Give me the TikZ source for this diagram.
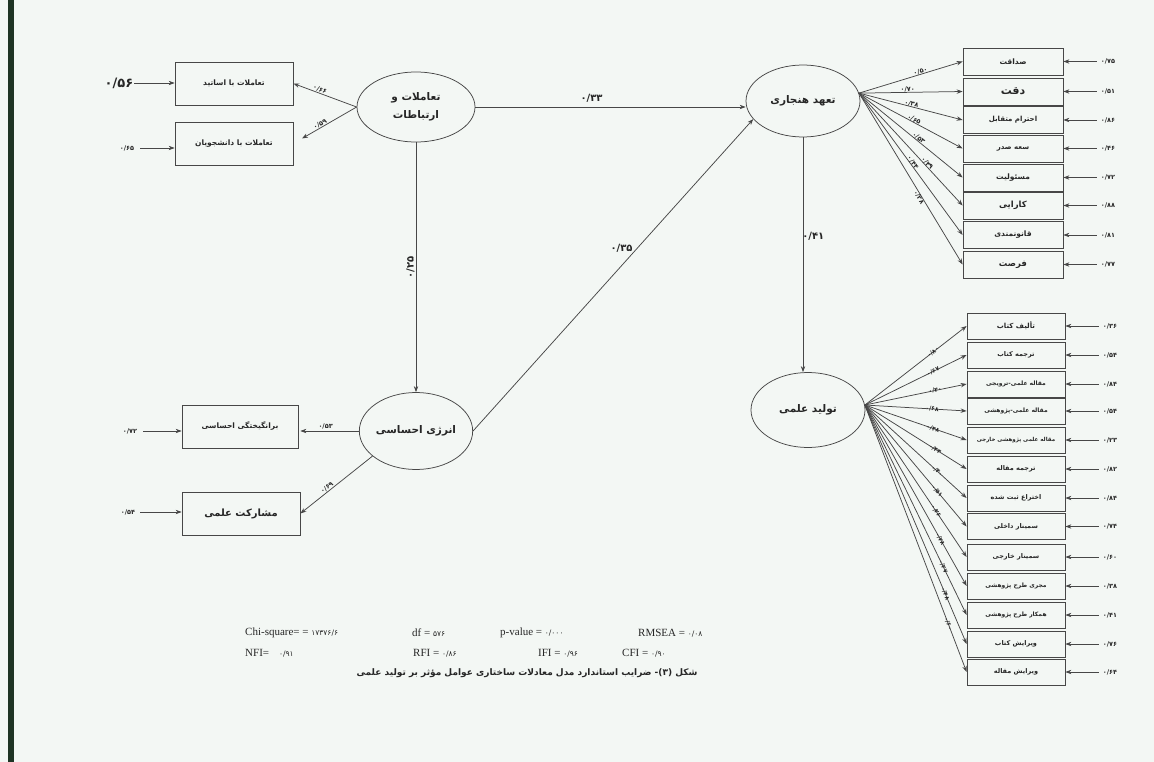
\documentclass[tikz,border=0pt]{standalone}
\usepackage{fontspec}
\setmainfont{Liberation Serif}
\newfontfamily\fa[Script=Arabic]{DejaVu Sans}
\TeXXeTstate=1
\usetikzlibrary{shapes.geometric,arrows.meta,calc}
\newcommand{\fatxt}[1]{{\fa\beginR #1\endR}}
\newcommand{\dz}[1]{۰/#1}
\newcommand{\pn}[1]{{\fa\fontsize{7.5}{9}\selectfont #1}}
\definecolor{bgc}{HTML}{F3F7F4}
\definecolor{linec}{HTML}{474747}
\definecolor{textc}{HTML}{262626}
\definecolor{barc}{HTML}{1E3424}
\tikzset{
  arr/.style={draw=linec, line width=0.75pt, -{Stealth[length=6pt,width=4.4pt]}},
  box/.style={draw=linec, line width=0.75pt, rectangle, inner sep=1pt, text=textc},
  lat/.style={draw=linec, ellipse, line width=0.75pt, inner sep=0pt, text=textc, align=center, font=\fa\bfseries\fontsize{10.5}{18}\selectfont},
  lab/.style={font=\fa\bfseries\fontsize{6.5}{7}\selectfont, text=textc, inner sep=0.6pt},
  labb/.style={font=\fa\bfseries\fontsize{10}{11}\selectfont, text=textc, inner sep=1pt},
  err/.style={font=\fa\bfseries\fontsize{6.5}{7}\selectfont, text=textc, inner sep=1pt},
  st/.style={font=\fontsize{11}{12}\selectfont, text=textc, inner sep=0pt}
}
\begin{document}
\begin{tikzpicture}[x=1pt,y=-1pt]
\useasboundingbox (0,0) rectangle (1154,762);
\fill[bgc] (0,0) rectangle (1154,762);
\fill[barc] (8,0) rectangle (13.5,762);

% latent variables
\node[lat, minimum width=118pt, minimum height=70pt] (ta) at (416,107) {\fatxt{تعاملات و}\\\fatxt{ارتباطات}};
\node[lat, minimum width=104pt, minimum height=77pt] (en) at (416,431) {\fatxt{انرژی احساسی}};
\node[lat, minimum width=114pt, minimum height=72pt] (tah) at (803,101) {\fatxt{تعهد هنجاری}};
\node[lat, minimum width=114pt, minimum height=75pt] (tol) at (808,410) {\fatxt{تولید علمی}};

% left indicator boxes
\node[box, minimum width=118pt, minimum height=43pt, font=\fa\bfseries\fontsize{7.5}{8}\selectfont] (bos) at (234,83.5) {\fatxt{تعاملات با اساتید}};
\node[box, minimum width=118pt, minimum height=43pt, font=\fa\bfseries\fontsize{7.5}{8}\selectfont] (bdn) at (234,143.5) {\fatxt{تعاملات با دانشجویان}};
\node[box, minimum width=116pt, minimum height=43pt, font=\fa\bfseries\fontsize{7.5}{8}\selectfont] (bbr) at (240,426.5) {\fatxt{برانگیختگی احساسی}};
\node[box, minimum width=118pt, minimum height=43pt, font=\fa\bfseries\fontsize{10}{11}\selectfont] (bms) at (241,513.5) {\fatxt{مشارکت علمی}};

% left errors
\node[err, font=\fa\bfseries\fontsize{13}{14}\selectfont] (e1) at (119,83) {\dz{۵۶}};
\node[err] (e2) at (127,148) {\dz{۶۵}};
\node[err] (e3) at (130,431) {\dz{۷۲}};
\node[err] (e4) at (128,512) {\dz{۵۴}};
\draw[arr] (e1) -- (e1 -| bos.west);
\draw[arr] (e2.east) ++(5,0) -- (e2 -| bdn.west);
\draw[arr] (e3.east) ++(5,0) -- (e3 -| bbr.west);
\draw[arr] (e4.east) ++(4,0) -- (e4 -| bms.west);

% left loadings
\draw[arr] (ta.west) -- node[lab, sloped, above, pos=0.6] {\dz{۶۶}} (bos.east);
\draw[arr, shorten >=10pt] (ta.west) -- node[lab, sloped, above, pos=0.55] {\dz{۵۹}} (bdn.east);
\draw[arr, shorten >=2pt] (en.west) -- node[lab, above=1pt, pos=0.55] {\dz{۵۳}} (en.west -| bbr.east);
\draw[arr] (en.210) -- node[lab, sloped, above, pos=0.6] {\dz{۶۹}} (bms.east);

% structural paths
\draw[arr] (ta.east) -- node[labb, above=3pt, pos=0.43] {\dz{۳۳}} (ta.east -| tah.west);
\draw[arr] (ta.south) -- node[labb, rotate=90, anchor=south, pos=0.5] {\dz{۲۵}} (ta.south |- en.north);
\draw[arr] (en.east) -- node[labb, pos=0.585, anchor=east, xshift=-3pt] {\dz{۳۵}} (tah.200);
\draw[arr] (tah.south) -- node[labb, anchor=west, pos=0.42, xshift=-2pt] {\dz{۴۱}} (tah.south |- tol.north);

% right-top indicators
\foreach \i/\yy/\name/\er/\lb/\pp/\side/\fs in {
  1/61.5/صداقت/۷۵/۵۰/0.6/above/7.5,
  2/91.5/دقت/۵۱/۷۰/0.47/above/11,
  3/120/احترام متقابل/۸۶/۳۸/0.5/above/7,
  4/148.5/سعه صدر/۴۶/۶۵/0.52/above/7,
  5/177.5/مسئولیت/۷۲/۵۳/0.56/above/7.5,
  6/205.5/کارایی/۸۸/۴۹/0.64/above/8.5,
  7/235/قانونمندی/۸۱/۴۴/0.5/above/7.5,
  8/264.5/فرصت/۷۷/۲۸/0.6/below/8.5}{
  \node[box, minimum width=100pt, minimum height=27pt, font=\fa\bfseries\fontsize{\fs}{\fs}\selectfont] (r\i) at (1013,\yy) {\fatxt{\name}};
  \node[err] (re\i) at (1108,\yy) {\dz{\er}};
  \draw[arr] (re\i.west) ++(-3,0) -- (re\i -| r\i.east);
  \draw[arr] (tah.8) -- node[lab, sloped, \side=-1pt, pos=\pp] {\dz{\lb}} (r\i.west);
}

% right-bottom indicators
\foreach \i/\yy/\name/\er/\lb/\pp/\fs in {
  1/326/تألیف کتاب/۳۶/۸۰/0.67/7,
  2/355/ترجمه کتاب/۵۴/۶۷/0.67/6.5,
  3/384/مقاله علمی-ترویجی/۸۴/۴۰/0.69/6,
  4/411/مقاله علمی-پژوهشی/۵۴/۶۸/0.66/6,
  5/440/مقاله علمی پژوهشی خارجی/۲۳/۴۸/0.67/5.5,
  6/469/ترجمه مقاله/۸۲/۴۴/0.69/6.5,
  7/498/اختراع ثبت شده/۸۴/۴۰/0.71/6.5,
  8/526.5/سمینار داخلی/۷۴/۵۱/0.71/6.5,
  9/557/سمینار خارجی/۶۰/۲۶/0.70/6.5,
  10/586/مجری طرح پژوهشی/۳۸/۲۸/0.74/6,
  11/615/همکار طرح پژوهشی/۴۱/۲۷/0.77/6,
  12/644/ویرایش کتاب/۷۶/۴۸/0.79/6.5,
  13/672/ویرایش مقاله/۶۴/۶۰/0.82/6.5}{
  \node[box, minimum width=98pt, minimum height=26pt, font=\fa\bfseries\fontsize{\fs}{\fs}\selectfont] (s\i) at (1016,\yy) {\fatxt{\name}};
  \node[err] (se\i) at (1110,\yy) {\dz{\er}};
  \draw[arr] (se\i.west) ++(-3,0) -- (se\i -| s\i.east);
  \draw[arr] (tol.5) -- node[lab, sloped, pos=\pp, font=\fa\bfseries\fontsize{6}{6}\selectfont] {\dz{\lb}} (s\i.west);
}

% fit statistics
\node[st, anchor=west] (f1) at (245,633) {Chi-square= = \pn{۱۷۳۷۶/۶}};
\node[st, anchor=west] (f2) at (412,633) {df = \pn{۵۷۶}};
\node[st, anchor=west] (f3) at (500,633) {p-value = \pn{۰/۰۰۰}};
\node[st, anchor=west] (f4) at (638,633) {RMSEA = \pn{۰/۰۸}};
\node[st, anchor=west] (g1) at (245,653) {NFI=\hspace{10pt}\pn{۰/۹۱}};
\node[st, anchor=west] (g2) at (413,653) {RFI = \pn{۰/۸۶}};
\node[st, anchor=west] (g3) at (538,653) {IFI = \pn{۰/۹۶}};
\node[st, anchor=west] (g4) at (622,653) {CFI = \pn{۰/۹۰}};
\node[text=textc, font=\fa\bfseries\fontsize{9}{10}\selectfont, inner sep=0pt] (cap) at (527,673) {\fatxt{شکل (۳)- ضرایب استاندارد مدل معادلات ساختاری عوامل مؤثر بر تولید علمی}};
\end{tikzpicture}
\end{document}
